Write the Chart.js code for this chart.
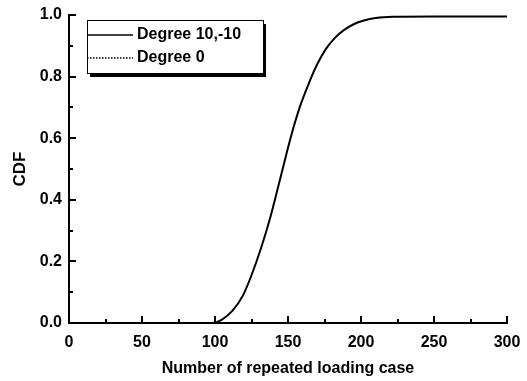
<!DOCTYPE html>
<html>
<head>
<meta charset="utf-8">
<script src="https://cdn.jsdelivr.net/npm/chart.js@4/dist/chart.umd.min.js"></script>
<style>
  html, body { margin: 0; padding: 0; background: #fff; }
  #wrap { width: 527px; height: 381px; }
</style>
</head>
<body>
<div id="wrap"><canvas id="cdfChart" width="527" height="381"></canvas></div>
<script>
// values
const repeatCases = [0, 50, 98, 105, 112, 119, 125, 132, 138, 145, 152, 158, 164, 170, 176, 182, 188, 195, 202, 210, 222, 250, 300];
const cdfDegree10 = [0, 0, 0, 0.012, 0.04, 0.088, 0.155, 0.25, 0.345, 0.475, 0.605, 0.70, 0.775, 0.84, 0.89, 0.925, 0.95, 0.97, 0.982, 0.99, 0.994, 0.995, 0.995];
const degree0Cases = [0, 300];
const cdfDegree0 = [0, 0];
const xTicks = [0, 50, 100, 150, 200, 250, 300];
const yTicks = [0, 0.2, 0.4, 0.6, 0.8, 1.0];
const seriesNames = ['Degree 10,-10', 'Degree 0'];

const FONT = '"Liberation Sans", Arial, Helvetica, sans-serif';

function pairs(xs, ys) {
    return xs.map((x, i) => ({ x: x, y: ys[i] }));
}

// inward tick marks (major + minor), like the original plot
const innerTicks = {
    id: 'innerTicks',
    afterDatasetsDraw(chart) {
        const c = chart.ctx;
        const xs = chart.scales.x;
        const ys = chart.scales.y;
        const area = chart.chartArea;
        c.save();
        c.strokeStyle = '#000';
        c.lineWidth = 2;
        c.beginPath();
        for (let v = 0; v <= 300; v += 25) {
            const px = Math.round(xs.getPixelForValue(v));
            const len = (v % 50 == 0) ? 7 : 4;
            c.moveTo(px, area.bottom);
            c.lineTo(px, area.bottom - len);
        }
        for (let k = 0; k <= 10; k++) {
            const py = Math.round(ys.getPixelForValue(k / 10));
            const len = (k % 2 == 0) ? 7 : 4;
            c.moveTo(area.left, py);
            c.lineTo(area.left + len, py);
        }
        c.stroke();
        c.restore();
    }
};

// boxed legend with a drop shadow, placed inside the plot
const boxLegend = {
    id: 'boxLegend',
    afterDraw(chart) {
        const c = chart.ctx;
        const bx = 87, by = 20, bw = 176, bh = 53;
        c.save();
        c.fillStyle = '#000';
        c.fillRect(bx + 3, by + 4, bw, bh);
        c.fillStyle = '#fff';
        c.fillRect(bx, by, bw, bh);
        c.strokeStyle = '#000';
        c.lineWidth = 1;
        c.strokeRect(bx + 0.5, by + 0.5, bw, bh);

        c.lineWidth = 1.5;
        c.beginPath();
        c.moveTo(bx, 35);
        c.lineTo(bx + 46, 35);
        c.stroke();
        c.setLineDash([1.5, 1.5]);
        c.beginPath();
        c.moveTo(bx, 58);
        c.lineTo(bx + 46, 58);
        c.stroke();
        c.setLineDash([]);

        c.fillStyle = '#000';
        c.font = 'bold 16px ' + FONT;
        c.textBaseline = 'middle';
        c.fillText(chart.data.datasets[0].label, 137, 35);
        c.fillText(chart.data.datasets[1].label, 137, 58);
        c.restore();
    }
};

const ctx = document.getElementById('cdfChart').getContext('2d');

const config = {
    type: 'line',
    data: {
        datasets: [{
            label: seriesNames[0],
            data: pairs(repeatCases, cdfDegree10),
            borderColor: '#000',
            borderWidth: 2,
            pointRadius: 0,
            fill: false,
            cubicInterpolationMode: 'monotone'
        }, {
            label: seriesNames[1],
            data: pairs(degree0Cases, cdfDegree0),
            borderColor: '#000',
            borderWidth: 1.5,
            borderDash: [1.5, 1.5],
            pointRadius: 0,
            fill: false
        }]
    },
    options: {
        responsive: false,
        animation: false,
        events: [],
        layout: { padding: { top: 15, right: 20, left: 0, bottom: 0 } },
        plugins: {
            legend: { display: false },
            tooltip: { enabled: false }
        },
        scales: {
            x: {
                type: 'linear',
                min: 0,
                max: 300,
                afterFit: (s) => { s.height = 58; s.paddingLeft = 0; s.paddingRight = 0; },
                afterBuildTicks: (s) => { s.ticks = xTicks.map(v => ({ value: v })); },
                grid: { display: false, drawTicks: false },
                border: { display: true, color: '#000', width: 2 },
                ticks: {
                    color: '#000',
                    padding: 10,
                    maxRotation: 0,
                    font: { family: FONT, size: 16, weight: 'bold' }
                },
                title: {
                    display: true,
                    text: 'Number of repeated loading case',
                    color: '#000',
                    padding: { top: 4, bottom: 3 },
                    font: { family: FONT, size: 16, weight: 'bold' }
                }
            },
            y: {
                min: 0,
                max: 1,
                afterFit: (s) => { s.width = 69; s.paddingTop = 0; s.paddingBottom = 0; },
                afterBuildTicks: (s) => { s.ticks = yTicks.map(v => ({ value: v })); },
                grid: { display: false, drawTicks: false },
                border: { display: true, color: '#000', width: 2 },
                ticks: {
                    color: '#000',
                    padding: 7,
                    callback: (v) => Number(v).toFixed(1),
                    font: { family: FONT, size: 16, weight: 'bold' }
                },
                title: {
                    display: true,
                    text: 'CDF',
                    color: '#000',
                    padding: { top: 10, bottom: 4 },
                    font: { family: FONT, size: 17, weight: 'bold' }
                }
            }
        }
    },
    plugins: [innerTicks, boxLegend]
};

var cdfChart = new Chart(ctx, config);
</script>
</body>
</html>
